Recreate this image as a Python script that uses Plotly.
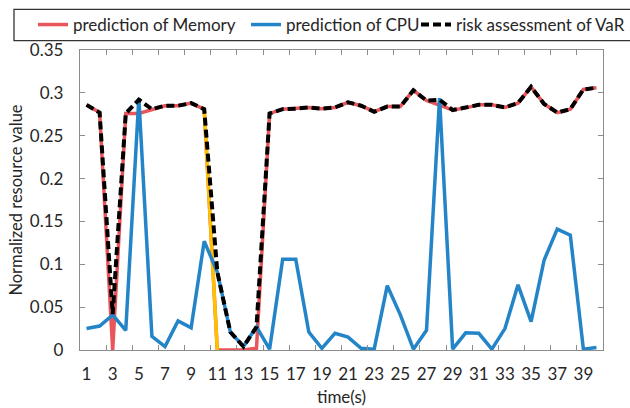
import plotly.graph_objects as go

# time steps (s)
time = [str(t) for t in range(1, 41)]

# normalized resource predictions
memory = [0.286, 0.277, 0.0, 0.276, 0.276, 0.281, 0.285, 0.285, 0.288, 0.281,
          0.0, 0.0, 0.0, 0.002, 0.276, 0.281, 0.2815, 0.283, 0.2815, 0.283,
          0.289, 0.285, 0.278, 0.284, 0.284, 0.303, 0.291, 0.286, 0.280, 0.2825,
          0.286, 0.286, 0.283, 0.288, 0.307, 0.287, 0.277, 0.281, 0.304, 0.306]

cpu = [0.025, 0.028, 0.041, 0.023, 0.294, 0.016, 0.004, 0.034, 0.026, 0.127,
       0.091, 0.021, 0.004, 0.027, 0.001, 0.106, 0.106, 0.021, 0.002, 0.0195,
       0.015, 0.002, 0.001, 0.075, 0.041, 0.001, 0.023, 0.294, 0.001, 0.020,
       0.0195, 0.001, 0.025, 0.076, 0.033, 0.105, 0.141, 0.134, 0.001, 0.003]

var_risk = [0.286, 0.277, 0.042, 0.276, 0.292, 0.281, 0.285, 0.285, 0.288, 0.281,
            0.091, 0.021, 0.004, 0.027, 0.276, 0.281, 0.2815, 0.283, 0.2815, 0.283,
            0.289, 0.285, 0.278, 0.284, 0.284, 0.303, 0.291, 0.292, 0.280, 0.2825,
            0.286, 0.286, 0.283, 0.288, 0.307, 0.287, 0.277, 0.281, 0.304, 0.306]

y_ticks = [0, 0.05, 0.1, 0.15, 0.2, 0.25, 0.3, 0.35]

RED = "#E8555A"
BLUE = "#2484C8"
GOLD = "#FFC000"
BLACK = "#000000"
AXIS_GREY = "#8C8C8C"
TEXT = "#262626"
FONT = "Lato"

W, H = 630, 408
ML, MR, MT, MB = 80, 27, 50, 58
PW, PH = W - ML - MR, H - MT - MB


def px_x(p):
    return (p - ML) / PW


def px_y(p):
    return (H - MB - p) / PH


fig = go.Figure()

fig.add_trace(go.Scatter(
    x=time, y=memory, mode="lines", name="prediction of Memory",
    line=dict(color=RED, width=3.5), legend="legend"))

# the drop from t=10 to t=11 is highlighted in gold
fig.add_trace(go.Scatter(
    x=time[9:11], y=memory[9:11], mode="lines", showlegend=False,
    line=dict(color=GOLD, width=3.5)))

fig.add_trace(go.Scatter(
    x=time, y=cpu, mode="lines", name="prediction of CPU",
    line=dict(color=BLUE, width=3.5), legend="legend2"))

fig.add_trace(go.Scatter(
    x=time, y=var_risk, mode="lines", name="risk assessment of VaR",
    line=dict(color=BLACK, width=4, dash="8px,4px"), legend="legend3"))

legend_common = dict(
    orientation="h", xref="paper", yref="paper", xanchor="left", yanchor="middle",
    y=px_y(25), bgcolor="rgba(0,0,0,0)", borderwidth=0,
    font=dict(family=FONT, size=17, color=TEXT),
)

fig.update_layout(
    width=W, height=H,
    margin=dict(l=ML, r=MR, t=MT, b=MB, autoexpand=False),
    paper_bgcolor="white", plot_bgcolor="white",
    font=dict(family=FONT, size=17, color=TEXT),
    legend=dict(x=px_x(33), **legend_common),
    legend2=dict(x=px_x(246), **legend_common),
    legend3=dict(x=px_x(416), **legend_common),
    shapes=[dict(
        type="rect", xref="paper", yref="paper",
        x0=px_x(14), x1=px_x(650), y0=px_y(40.7), y1=px_y(9.3),
        line=dict(color="#333333", width=1.3), fillcolor="rgba(0,0,0,0)")],
)

fig.update_xaxes(
    type="category", range=[-0.5, len(time) - 0.5],
    tickmode="linear", tick0=0, dtick=2, tickson="boundaries",
    tickangle=0,
    ticks="inside", ticklen=5, tickcolor=AXIS_GREY, tickwidth=1,
    showline=True, linecolor=AXIS_GREY, linewidth=1.3, mirror="ticks",
    showgrid=False, zeroline=False, ticklabelstandoff=8,
    tickfont=dict(family=FONT, size=17, color=TEXT),
    title=dict(text="time(s)", standoff=8, font=dict(family=FONT, size=17, color=TEXT)),
)

fig.update_yaxes(
    range=[0, 0.35], tickvals=y_ticks, ticktext=[f"{v:g}" for v in y_ticks],
    ticks="inside", ticklen=5, tickcolor=AXIS_GREY, tickwidth=1,
    showline=True, linecolor=AXIS_GREY, linewidth=1.3, mirror="ticks",
    showgrid=False, zeroline=False, ticklabelstandoff=12,
    tickfont=dict(family=FONT, size=17, color=TEXT),
    title=dict(text="Normalized resource value", standoff=3,
               font=dict(family=FONT, size=16.5, color=TEXT)),
)

fig.write_html("out.html")
